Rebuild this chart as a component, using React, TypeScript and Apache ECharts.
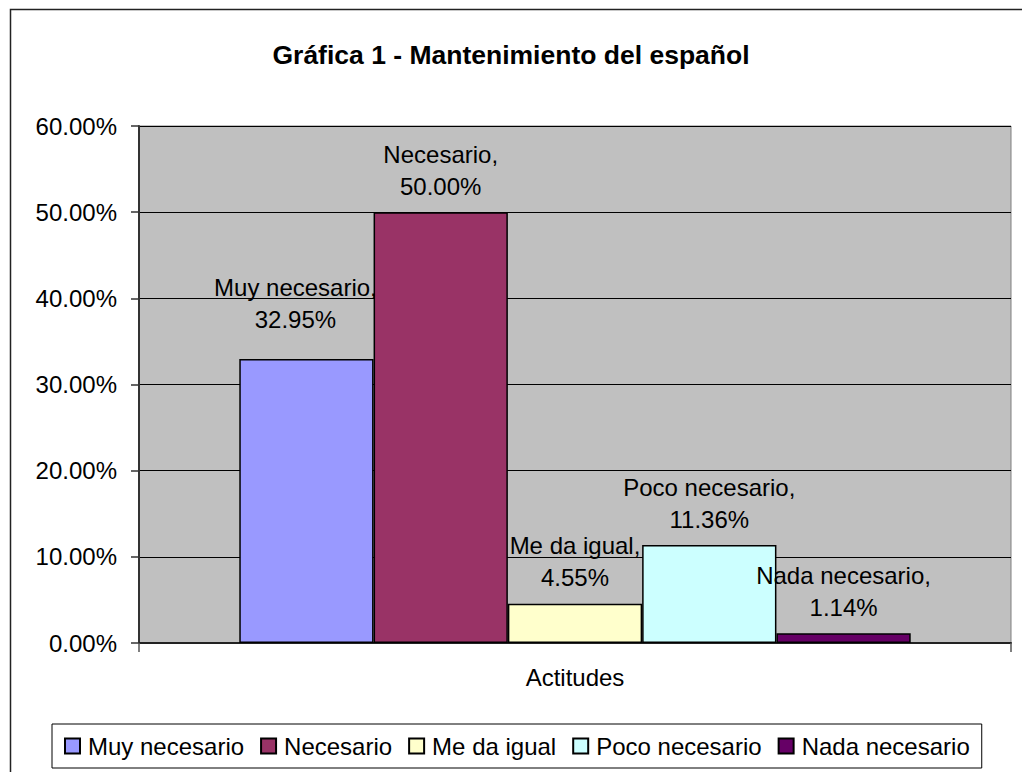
import React, { useEffect, useRef } from "react";
import * as echarts from "echarts";

const titleText = "Gráfica 1 - Mantenimiento del español";
const categories = ["Actitudes"];
const seriesNames = ["Muy necesario", "Necesario", "Me da igual", "Poco necesario", "Nada necesario"];
const seriesValues = [32.95, 50.0, 4.55, 11.36, 1.14];
const seriesColors = ["#9999FF", "#993366", "#FFFFCC", "#CCFFFF", "#660066"];
const yTicks = { min: 0, max: 60, interval: 10 };

const FONT = "'Liberation Sans', Arial, sans-serif";

export default function App() {
  const ref = useRef<HTMLDivElement>(null);
  useEffect(() => {
    if (!ref.current) return;
    const chart = echarts.init(ref.current, null, { renderer: "svg" });
    const series = seriesNames.map((name, i) => ({
      name,
      type: "bar",
      data: [seriesValues[i]],
      barGap: "0%",
      barCategoryGap: "23%",
      itemStyle: { color: seriesColors[i], borderColor: "#000", borderWidth: 1.5 },
      label: {
        show: true,
        position: "top",
        distance: 10,
        offset: i === 0 ? [-11, -14] : [0, 0],
        fontFamily: FONT,
        fontSize: 24,
        lineHeight: 32,
        color: "#000",
        formatter: (p: any) => `${p.seriesName},\n${Number(p.value).toFixed(2)}%`,
      },
    }));
    chart.setOption({
      animation: false,
      backgroundColor: "#fff",
      textStyle: { fontFamily: FONT },
      title: {
        text: titleText,
        left: "center",
        top: 36,
        padding: [5, 0, 5, 8],
        textStyle: { fontFamily: FONT, fontSize: 26.5, fontWeight: "bold", color: "#000" },
      },
      grid: {
        left: 139,
        right: 11,
        top: 126,
        bottom: 129,
        show: true,
        backgroundColor: "#C0C0C0",
        borderColor: "#808080",
        borderWidth: 1,
      },
      legend: {
        data: seriesNames,
        left: 52,
        top: 724,
        padding: [10, 12],
        itemGap: 16,
        itemWidth: 15,
        itemHeight: 15,
        icon: "rect",
        backgroundColor: "#fff",
        borderColor: "#000",
        borderWidth: 1,
        textStyle: { fontFamily: FONT, fontSize: 24, color: "#000", padding: [0, 0, 0, 3] },
      },
      xAxis: {
        type: "category",
        data: categories,
        axisLine: { show: true, lineStyle: { color: "#222", width: 2 } },
        axisTick: { show: true, length: 9, lineStyle: { color: "#555", width: 1.5 } },
        axisLabel: { margin: 22, fontFamily: FONT, fontSize: 24, color: "#000" },
      },
      yAxis: {
        type: "value",
        min: yTicks.min,
        max: yTicks.max,
        interval: yTicks.interval,
        axisLine: { show: true, lineStyle: { color: "#333", width: 2 } },
        axisTick: { show: true, length: 8, lineStyle: { color: "#333", width: 1.5 } },
        axisLabel: {
          margin: 22,
          fontFamily: FONT,
          fontSize: 24,
          color: "#000",
          formatter: (v: number) => `${v.toFixed(2)}%`,
        },
        splitLine: { show: true, lineStyle: { color: "#000", width: 1 } },
      },
      graphic: [
        {
          type: "rect",
          shape: { x: 10.5, y: 9.5, width: 1020, height: 790 },
          style: { fill: "none", stroke: "#222", lineWidth: 1.5 },
          silent: true,
          z: 100,
        },
      ],
      series,
    });
    return () => chart.dispose();
  }, []);
  return (
    <div
      ref={ref}
      style={{ position: "fixed", left: 0, top: 0, width: 1022, height: 772 }}
    />
  );
}
